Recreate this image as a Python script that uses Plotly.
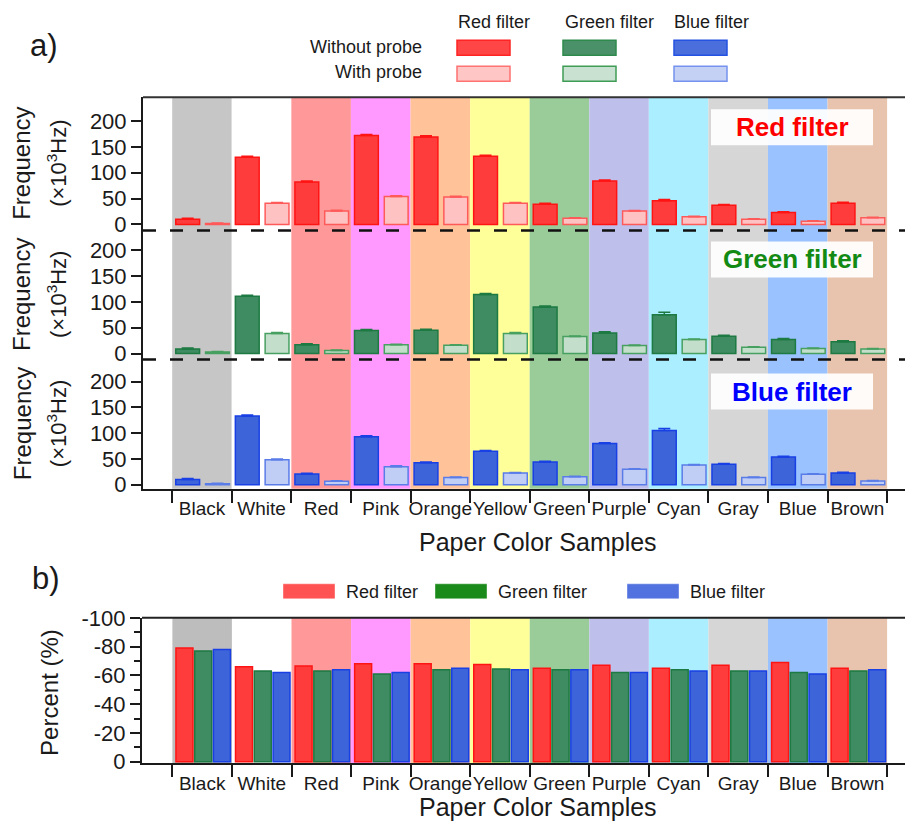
import plotly.graph_objects as go

# ---------------- data ----------------
categories = ["Black", "White", "Red", "Pink", "Orange", "Yellow",
              "Green", "Purple", "Cyan", "Gray", "Blue", "Brown"]
band_colors = ["#c6c6c6", "#ffffff", "#ff9999", "#ff99ff", "#ffc299", "#ffff99",
               "#99cc99", "#bfbfec", "#aaeeff", "#d6d6d6", "#99c2ff", "#e8c4ae"]

red_without = [10, 130, 82, 172, 169, 132, 39, 84, 46, 37, 23, 41]
red_with = [2, 41, 26, 54, 53, 41, 12, 26, 15, 10, 6, 13]
red_without_err = [2, 2, 2, 2, 2.5, 2, 2, 2, 2, 1.5, 1.5, 2]
red_with_err = [1, 1.5, 1.5, 1.5, 1.5, 1.5, 1, 1, 1, 1, 1, 1]

green_without = [9, 111, 17, 44.5, 45, 114, 90, 40, 75, 33.5, 27, 23]
green_with = [3, 39, 6, 17, 16, 39, 33, 15.5, 27, 12, 10, 9]
green_without_err = [2, 2, 2, 2, 2, 2, 2, 2, 5, 2, 2, 2]
green_with_err = [1, 1.5, 1, 1, 1, 1.5, 1, 1, 1, 1, 1, 1]

blue_without = [10, 133, 20.7, 93, 42.7, 64.7, 44, 80, 105, 39.5, 53.7, 22.7]
blue_with = [2, 48.5, 6.5, 35, 14, 22.7, 15.5, 30, 38, 14, 20, 7]
blue_without_err = [2, 2, 1.5, 2, 1.5, 1.5, 1.5, 1.5, 4, 1.5, 1.5, 1.5]
blue_with_err = [1, 1.5, 1, 1.5, 1, 1, 1, 1, 1, 1, 1, 1]

pct_red = [-79, -66, -66.5, -68, -68, -67.5, -65, -67, -65, -67, -69, -65]
pct_green = [-77, -63, -63, -61, -64, -64.5, -64, -62, -64, -63, -62, -63]
pct_blue = [-78, -62, -64, -62, -65, -64, -64, -62, -63, -63, -61, -64]

freq_ticks = [0, 50, 100, 150, 200]
pct_ticks = [0, -20, -40, -60, -80, -100]
pct_ticktext = ["0", "-20", "-40", "-60", "-80", "-100"]

# ---------------- helpers ----------------
W, H = 910, 822
FONT = "Liberation Sans, Arial, sans-serif"
VA, VB = 11.8, 0.971   # vertical calibration of the captured page


def fx(p):
    return p / W


def fy(p):
    return 1 - ((p - VA) / VB) / H


xs = list(range(len(categories)))
zeros = [0] * len(categories)

fig = go.Figure()

panels = [
    ("y", red_without, red_without_err, red_with, red_with_err,
     ("#ff3c3c", "#ff1414"), ("#ffc2c2", "#ff5a5a")),
    ("y2", green_without, green_without_err, green_with, green_with_err,
     ("#3f8b62", "#1d7a42"), ("#c3dfcc", "#47a060")),
    ("y3", blue_without, blue_without_err, blue_with, blue_with_err,
     ("#3d64d9", "#1840e4"), ("#c0cdf4", "#5a7ce8")),
]

for yax, v1, e1, v2, e2, c1, c2 in panels:
    fig.add_trace(go.Bar(
        x=xs, y=v1, xaxis="x", yaxis=yax, offset=-0.44, width=0.40,
        marker=dict(color=c1[0], line=dict(color=c1[1], width=1.5)),
        error_y=dict(type="data", array=e1, arrayminus=zeros, symmetric=False,
                     color=c1[1], thickness=1.5, width=6),
        showlegend=False, hoverinfo="skip"))
    fig.add_trace(go.Bar(
        x=xs, y=v2, xaxis="x", yaxis=yax, offset=0.06, width=0.40,
        marker=dict(color=c2[0], line=dict(color=c2[1], width=1.5)),
        error_y=dict(type="data", array=e2, arrayminus=zeros, symmetric=False,
                     color=c2[1], thickness=1.5, width=6),
        showlegend=False, hoverinfo="skip"))

pct_series = [
    (pct_red, -0.44, "#ff3c3c", "#ff1414"),
    (pct_green, -0.125, "#3f8b62", "#1d7a42"),
    (pct_blue, 0.19, "#3d64d9", "#1840e4"),
]
for vals, off, fc, lc in pct_series:
    fig.add_trace(go.Bar(
        x=xs, y=vals, xaxis="x2", yaxis="y4", offset=off, width=0.285,
        marker=dict(color=fc, line=dict(color=lc, width=1.5)),
        showlegend=False, hoverinfo="skip"))

shapes = []
annotations = []

# background bands
for i, col in enumerate(band_colors):
    shapes.append(dict(type="rect", xref="x", yref="paper", x0=i - 0.5, x1=i + 0.5,
                       y0=fy(488), y1=fy(97), fillcolor=col, line=dict(width=0),
                       layer="below"))
    shapes.append(dict(type="rect", xref="x2", yref="paper", x0=i - 0.5, x1=i + 0.5,
                       y0=fy(762), y1=fy(617), fillcolor=("#bdbdbd" if i == 0 else col),
                       line=dict(width=0), layer="below"))

# borders and dashed separators
shapes.append(dict(type="line", xref="paper", yref="paper", x0=fx(143), x1=fx(905),
                   y0=fy(97), y1=fy(97), line=dict(color="#333333", width=2)))
shapes.append(dict(type="line", xref="paper", yref="paper", x0=fx(142), x1=fx(905),
                   y0=fy(617), y1=fy(617), line=dict(color="#222222", width=2)))
for yy in (230, 359):
    shapes.append(dict(type="line", xref="paper", yref="paper", x0=fx(143), x1=fx(905),
                       y0=fy(yy), y1=fy(yy),
                       line=dict(color="#111111", width=2.5, dash="13px,14px")))

# filter label boxes inside panel a
for ytop, txt, col in [(109, "Red filter", "#ff0000"),
                       (241, "Green filter", "#138a13"),
                       (373, "Blue filter", "#0000ff")]:
    shapes.append(dict(type="rect", xref="paper", yref="paper", x0=fx(711), x1=fx(873),
                       y0=fy(ytop + 36), y1=fy(ytop), fillcolor="rgba(255,255,255,0.93)",
                       line=dict(width=0)))
    annotations.append(dict(xref="paper", yref="paper", x=fx(792), y=fy(ytop + 18),
                            text="<b>%s</b>" % txt, showarrow=False,
                            font=dict(family=FONT, size=26, color=col),
                            xanchor="center", yanchor="middle"))

# y titles for panel a
for yc in (163.5, 294.5, 423.5):
    annotations.append(dict(xref="paper", yref="paper", x=fx(22), y=fy(yc),
                            text="Frequency", textangle=-90, showarrow=False,
                            font=dict(family=FONT, size=24, color="#1a1a1a"),
                            xanchor="center", yanchor="middle"))
    annotations.append(dict(xref="paper", yref="paper", x=fx(57), y=fy(yc),
                            text="(×10<sup>3</sup>Hz)", textangle=-90, showarrow=False,
                            font=dict(family=FONT, size=22, color="#1a1a1a"),
                            xanchor="center", yanchor="middle"))

# panel b y title
annotations.append(dict(xref="paper", yref="paper", x=fx(50), y=fy(692),
                        text="Percent (%)", textangle=-90, showarrow=False,
                        font=dict(family=FONT, size=24, color="#1a1a1a"),
                        xanchor="center", yanchor="middle"))

# panel letters
annotations.append(dict(xref="paper", yref="paper", x=fx(28), y=fy(45), text="a)",
                        showarrow=False, xanchor="left", yanchor="middle",
                        font=dict(family=FONT, size=31, color="#1a1a1a")))
annotations.append(dict(xref="paper", yref="paper", x=fx(30), y=fy(578), text="b)",
                        showarrow=False, xanchor="left", yanchor="middle",
                        font=dict(family=FONT, size=31, color="#1a1a1a")))

# legend panel a
leg_heads = [("Red filter", 494), ("Green filter", 609), ("Blue filter", 711)]
for txt, xc in leg_heads:
    annotations.append(dict(xref="paper", yref="paper", x=fx(xc), y=fy(22), text=txt,
                            showarrow=False, xanchor="center", yanchor="middle",
                            font=dict(family=FONT, size=18, color="#1a1a1a")))
for txt, yc in [("Without probe", 47), ("With probe", 72)]:
    annotations.append(dict(xref="paper", yref="paper", x=fx(424), y=fy(yc), text=txt,
                            showarrow=False, xanchor="right", yanchor="middle",
                            font=dict(family=FONT, size=18, color="#1a1a1a")))
leg_sw = [(457, ("#ff4646", "#ff2424"), ("#ffc6c6", "#ff7272")),
          (563, ("#4a9068", "#2e8a4c"), ("#c9e1d1", "#3f9c55")),
          (674, ("#4a6fdc", "#2452e2"), ("#c4d0f4", "#7592ee"))]
for x0, c1, c2 in leg_sw:
    shapes.append(dict(type="rect", xref="paper", yref="paper", x0=fx(x0), x1=fx(x0 + 53),
                       y0=fy(55), y1=fy(40), fillcolor=c1[0], line=dict(color=c1[1], width=1.5)))
    shapes.append(dict(type="rect", xref="paper", yref="paper", x0=fx(x0), x1=fx(x0 + 53),
                       y0=fy(81), y1=fy(66), fillcolor=c2[0], line=dict(color=c2[1], width=1.5)))

# legend panel b
leg_b = [(283, "#ff5252", "Red filter"), (435, "#1a8a1a", "Green filter"),
         (627, "#5272e0", "Blue filter")]
for x0, col, txt in leg_b:
    shapes.append(dict(type="rect", xref="paper", yref="paper", x0=fx(x0), x1=fx(x0 + 52),
                       y0=fy(598), y1=fy(583), fillcolor=col,
                       line=dict(color="rgba(255,255,255,0.4)", width=1)))
    annotations.append(dict(xref="paper", yref="paper", x=fx(x0 + 61), y=fy(591), text=txt,
                            showarrow=False, xanchor="left", yanchor="middle",
                            font=dict(family=FONT, size=18, color="#1a1a1a")))

# x titles
annotations.append(dict(xref="paper", yref="paper", x=fx(538), y=fy(541),
                        text="Paper Color Samples", showarrow=False,
                        xanchor="center", yanchor="middle",
                        font=dict(family=FONT, size=25, color="#1a1a1a")))
annotations.append(dict(xref="paper", yref="paper", x=fx(538), y=fy(806),
                        text="Paper Color Samples", showarrow=False,
                        xanchor="center", yanchor="middle",
                        font=dict(family=FONT, size=25, color="#1a1a1a")))

tickfont = dict(family=FONT, size=22, color="#1a1a1a")
xtickfont = dict(family=FONT, size=19, color="#1a1a1a")
boundaries = [i - 0.5 for i in range(len(categories) + 1)]

yax_common = dict(showline=True, linecolor="#1a1a1a", linewidth=2, ticks="outside",
                  ticklen=10, tickwidth=2, tickcolor="#1a1a1a", tickfont=tickfont,
                  showgrid=False, zeroline=False, tickmode="array", tickvals=freq_ticks,
                  anchor="x", fixedrange=True)

xax_common = dict(showline=True, linecolor="#1a1a1a", linewidth=2, showgrid=False,
                  zeroline=False, tickmode="array", tickvals=xs, ticktext=categories,
                  ticks="", tickangle=0, tickfont=xtickfont, ticklabelstandoff=2,
                  minor=dict(tickmode="array", tickvals=boundaries, ticks="outside",
                             ticklen=12, tickwidth=1.5, tickcolor="#1a1a1a", showgrid=False))

fig.update_layout(
    width=W, height=H, autosize=False,
    margin=dict(l=0, r=0, t=0, b=0),
    paper_bgcolor="white", plot_bgcolor="rgba(0,0,0,0)",
    barmode="overlay", showlegend=False,
    font=dict(family=FONT, color="#1a1a1a"),
    xaxis=dict(domain=[fx(143), fx(905)], range=[-0.99, 11.8], anchor="y3", **xax_common),
    yaxis=dict(domain=[fy(230), fy(97)], range=[-11.6, 245.9], **yax_common),
    yaxis2=dict(domain=[fy(359), fy(230)], range=[-11.6, 238.1], **yax_common),
    yaxis3=dict(domain=[fy(488), fy(359)], range=[-7.8, 242.7], **yax_common),
    xaxis2=dict(domain=[fx(142), fx(905)], range=[-1.01, 11.8], anchor="y4", **xax_common),
    yaxis4=dict(domain=[fy(762), fy(617)], range=[0.9, -100], anchor="x2",
                showline=True, linecolor="#1a1a1a", linewidth=2, ticks="outside",
                ticklen=10, tickwidth=2, tickcolor="#1a1a1a", tickfont=tickfont,
                showgrid=False, zeroline=False, tickmode="array", tickvals=pct_ticks,
                ticktext=pct_ticktext,
                minor=dict(tickmode="array", tickvals=[-10, -30, -50, -70, -90],
                           ticks="outside", ticklen=6, tickwidth=1.5, tickcolor="#1a1a1a",
                           showgrid=False)),
    shapes=shapes,
    annotations=annotations,
)

fig.write_html(
    "out.html",
    config={"displayModeBar": False},
    post_script="document.body.style.margin='0';document.body.style.overflow='hidden';",
)
